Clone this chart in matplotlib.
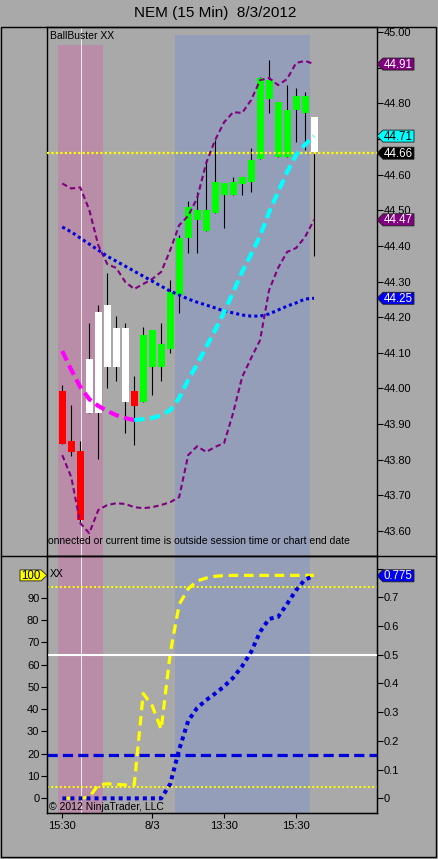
import matplotlib
matplotlib.use("Agg")
import matplotlib.pyplot as plt
import matplotlib.transforms as mtransforms
from matplotlib.patches import Polygon, Rectangle
from matplotlib.lines import Line2D
import numpy as np

plt.rcParams['font.family'] = ['Liberation Sans', 'DejaVu Sans']

W, H = 438, 859
BG = '#a9a9a9'
PINK = '#b98ca7'
SLATE = '#949eb9'
PURPLE = '#800080'

# 15 min bars, index 0 = 15:30 on 8/2
opens = [43.994, 43.852, 43.824, 43.932, 43.932, 44.061, 44.061, 43.963, 43.993, 43.963,
         44.061, 44.061, 44.112, 44.262, 44.421, 44.473, 44.442, 44.491, 44.543, 44.543,
         44.574, 44.580, 44.643, 44.811, 44.650, 44.650, 44.781, 44.774, 44.664]
highs = [44.011, 43.954, 43.852, 44.185, 44.234, 44.325, 44.203, 44.184, 44.035, 44.173,
         44.164, 44.184, 44.304, 44.430, 44.525, 44.552, 44.641, 44.697, 44.575, 44.594,
         44.594, 44.674, 44.875, 44.921, 44.804, 44.851, 44.842, 44.833, 44.761]
lows = [43.843, 43.811, 43.626, 43.932, 43.802, 44.000, 44.021, 43.874, 43.841, 43.963,
        43.981, 44.021, 44.100, 44.212, 44.381, 44.381, 44.442, 44.491, 44.451, 44.543,
        44.543, 44.552, 44.643, 44.772, 44.650, 44.650, 44.692, 44.669, 44.371]
closes = [43.843, 43.822, 43.631, 44.082, 44.215, 44.234, 44.171, 44.171, 43.951, 44.150,
          44.164, 44.125, 44.271, 44.421, 44.510, 44.501, 44.501, 44.580, 44.575, 44.580,
          44.594, 44.641, 44.870, 44.865, 44.804, 44.781, 44.821, 44.821, 44.761]
bar_colors = ['red', 'red', 'red', 'white', 'white', 'white', 'white', 'white', 'red', 'lime',
              'lime', 'lime', 'lime', 'lime', 'lime', 'lime', 'lime', 'lime', 'lime', 'lime',
              'lime', 'lime', 'lime', 'lime', 'lime', 'lime', 'lime', 'lime', 'white']

upper_band = [44.575, 44.561, 44.564, 44.501, 44.402, 44.349, 44.338, 44.299, 44.279, 44.293,
              44.307, 44.327, 44.388, 44.458, 44.484, 44.534, 44.632, 44.697, 44.747, 44.775,
              44.773, 44.809, 44.865, 44.871, 44.851, 44.868, 44.913, 44.919, 44.910]
lower_band = [43.813, 43.751, 43.622, 43.594, 43.659, 43.673, 43.678, 43.676, 43.667, 43.664,
              43.667, 43.673, 43.681, 43.695, 43.813, 43.838, 43.822, 43.836, 43.847, 43.931,
              44.032, 44.085, 44.136, 44.276, 44.338, 44.383, 44.394, 44.425, 44.473]
slow_avg = [44.453, 44.439, 44.422, 44.405, 44.388, 44.371, 44.357, 44.343, 44.329, 44.315,
            44.301, 44.287, 44.273, 44.262, 44.251, 44.242, 44.234, 44.226, 44.217, 44.212,
            44.206, 44.203, 44.203, 44.209, 44.220, 44.231, 44.240, 44.251, 44.253]
fast_avg = [44.105, 44.052, 44.004, 43.970, 43.951, 43.937, 43.925, 43.917, 43.911, 43.914,
            43.917, 43.925, 43.939, 43.973, 44.024, 44.068, 44.116, 44.164, 44.214, 44.270,
            44.327, 44.377, 44.428, 44.495, 44.551, 44.607, 44.655, 44.684, 44.708]
last_price = 44.66

osc_xx = [0, 0, 0, 0.5, 6, 6.5, 6.2, 6, 6, 47,
          41.5, 31, 65, 87, 94, 97.5, 98.8, 99.6, 99.9, 100,
          100, 100, 100, 100, 100, 100, 100, 100, 100]
osc_rate = [0, 0, 0, 0, 0, 0, 0, 0, 0, 0,
            0, 0, 0.05, 0.17, 0.27, 0.315, 0.342, 0.365, 0.39, 0.42,
            0.46, 0.51, 0.58, 0.625, 0.632, 0.677, 0.725, 0.762, 0.775]
xx_levels = [95, 5]
rate_mid = 0.5
rate_low = 0.15

xtick_pos = [0, 10, 18, 26]
xtick_labels = ['15:30', '8/3', '13:30', '15:30']
price_ticks = np.round(np.arange(43.6, 45.001, 0.1), 2)
xx_ticks = list(range(0, 100, 10))
rate_ticks = np.round(np.arange(0, 0.81, 0.1), 1)

xs = np.arange(len(closes))

fig = plt.figure(figsize=(W / 100, H / 100), dpi=100, facecolor=BG)
px = mtransforms.Affine2D().scale(1 / W, -1 / H).translate(0, 1) + fig.transFigure


def rect(l, t, r, b):
    return [l / W, 1 - b / H, (r - l) / W, (b - t) / H]


ax = fig.add_axes(rect(47, 27, 377, 556))
ax2 = fig.add_axes(rect(47, 556, 377, 813))
ax3 = ax2.twinx()

for a in (ax, ax2):
    a.set_facecolor(BG)
    a.set_xlim(-1.7, 35.0)
    for s in a.spines.values():
        s.set_linewidth(1.0)
ax3.set_xlim(-1.7, 35.0)
ax3.patch.set_visible(False)

ax.set_ylim(43.530, 45.014)
ax2.set_ylim(-6.6, 108.7)
ax3.set_ylim(-0.051, 0.844)

# session shading
ax.axvspan(-0.45, 4.5, ymax=0.966, color=PINK, lw=0, zorder=0)
ax.axvspan(12.5, 27.5, ymax=0.985, color=SLATE, lw=0, zorder=0)
ax2.axvspan(-0.45, 4.5, color=PINK, lw=0, zorder=0)
ax2.axvspan(12.5, 27.5, color=SLATE, lw=0, zorder=0)
ax.axvline(2.04, color='white', lw=0.7, alpha=0.8, zorder=0.5)
ax2.axvline(2.04, color='white', lw=0.7, alpha=0.8, zorder=0.5)

# candles
ax.vlines(xs, lows, highs, color='black', lw=0.8, zorder=2)
body = np.array(closes) - np.array(opens)
ax.bar(xs, body, bottom=opens, width=0.78, color=bar_colors, lw=0, zorder=3)

# indicators
ax.axhline(last_price, color='yellow', lw=1.6, ls=(0, (1, 1)), zorder=4)
ax.plot(xs, upper_band, color=PURPLE, lw=1.5, ls=(0, (2.6, 1.6)), zorder=5)
ax.plot(xs, lower_band, color=PURPLE, lw=1.5, ls=(0, (2.6, 1.6)), zorder=5)
ax.plot(xs, slow_avg, color='#0000dd', lw=2.2, ls=(0, (1, 1)), zorder=5)
turn = int(np.argmin(fast_avg))
ax.plot(xs[:turn + 1], fast_avg[:turn + 1], color='magenta', lw=3.0, ls=(0, (2.5, 1.3)),
        zorder=6)
ax.plot(xs[turn:], fast_avg[turn:], color='cyan', lw=3.0, ls=(0, (2.5, 1.3)), zorder=6)

# price axis (labels sitting under a value tag are left blank)
hidden = {44.9, 44.7}
ax.yaxis.tick_right()
ax.set_yticks(price_ticks)
ax.set_yticklabels(['' if v in hidden else '%.2f' % v for v in price_ticks])
ax.tick_params(axis='y', direction='out', length=4.3, width=0.8, pad=0.8,
               labelsize=8, colors='black')
ax.tick_params(axis='x', bottom=False, labelbottom=False)

ax.text(0.008, 0.983, 'BallBuster XX', transform=ax.transAxes, fontsize=7.5,
        va='center', ha='left')
ax.text(0.004, 0.029, 'onnected or current time is outside session time or chart end date',
        transform=ax.transAxes, fontsize=7.5, va='center', ha='left')

# oscillator panel
for lv in xx_levels:
    ax2.axhline(lv, color='yellow', lw=1.4, ls=(0, (1, 1.2)), zorder=2)
ax2.plot(xs, osc_xx, color='yellow', lw=2.3, ls=(0, (3, 1.8)), zorder=3)
ax3.axhline(rate_mid, color='white', lw=1.5, zorder=1)
ax3.axhline(rate_low, color='#0000dd', lw=2.3, ls=(0, (3.2, 1.6)), zorder=1)
ax3.plot(xs, osc_rate, color='#0000dd', lw=2.9, ls=(0, (1, 1)), zorder=3)

ax2.set_yticks(xx_ticks)
ax2.tick_params(axis='y', direction='out', length=4.3, width=0.8, pad=1.2, labelsize=8)
ax3.set_yticks(rate_ticks)
ax3.set_yticklabels(['0' if v == 0 else ('' if v == 0.8 else '%.1f' % v) for v in rate_ticks])
ax3.tick_params(axis='y', direction='out', length=4.3, width=0.8, pad=0.8, labelsize=8)
ax2.set_xticks(xtick_pos)
ax2.set_xticklabels(xtick_labels)
ax2.tick_params(axis='x', direction='out', length=3.6, width=0.8, pad=2.5, labelsize=8)
ax3.tick_params(axis='x', bottom=False, labelbottom=False)

ax2.text(0.009, 0.93, 'XX', transform=ax2.transAxes, fontsize=7.5, va='center', ha='left')
ax2.text(0.006, 0.025, '\u00a9 2012 NinjaTrader, LLC', transform=ax2.transAxes,
         fontsize=7.5, va='center', ha='left', zorder=10)


def to_px(axis, val):
    return H - axis.transData.transform((0, val))[1]


def right_tag(axis, val, text, fc, tc):
    y = to_px(axis, val)
    pts = [(377, y), (383, y - 6), (414, y - 6), (414, y + 6), (383, y + 6)]
    fig.add_artist(Polygon(pts, closed=True, transform=px, fc=fc, ec='#202020', lw=0.6,
                           zorder=20))
    fig.text(398, y + 0.5, text, transform=px, fontsize=8.3, color=tc, ha='center',
             va='center', zorder=21)


def left_tag(axis, val, text, fc, tc):
    y = to_px(axis, val)
    pts = [(20, y - 5.5), (41, y - 5.5), (47, y), (41, y + 5.5), (20, y + 5.5)]
    fig.add_artist(Polygon(pts, closed=True, transform=px, fc=fc, ec='#202020', lw=0.6,
                           zorder=20))
    fig.text(31, y + 0.5, text, transform=px, fontsize=8.3, color=tc, ha='center',
             va='center', zorder=21)


right_tag(ax, upper_band[-1], '%.2f' % upper_band[-1], PURPLE, 'white')
right_tag(ax, fast_avg[-1], '%.2f' % fast_avg[-1], 'cyan', 'black')
right_tag(ax, last_price, '%.2f' % last_price, 'black', 'white')
right_tag(ax, lower_band[-1], '%.2f' % lower_band[-1], PURPLE, 'white')
right_tag(ax, slow_avg[-1], '%.2f' % slow_avg[-1], '#0000ee', 'white')
right_tag(ax3, osc_rate[-1], '%.3f' % osc_rate[-1], '#0000ee', 'white')
left_tag(ax2, osc_xx[-1], '%d' % osc_xx[-1], 'yellow', 'black')

# frame and title
fig.add_artist(Rectangle((1, 27), 435, 830, transform=px, fill=False, ec='black', lw=1.0))
fig.add_artist(Line2D([1, 436], [556, 556], transform=px, color='black', lw=1.0))
fig.text(214.7, 13, 'NEM (15 Min)  8/3/2012', transform=px, fontsize=11, ha='center',
         va='center')

fig.savefig('out.png', dpi=100, facecolor=BG)
